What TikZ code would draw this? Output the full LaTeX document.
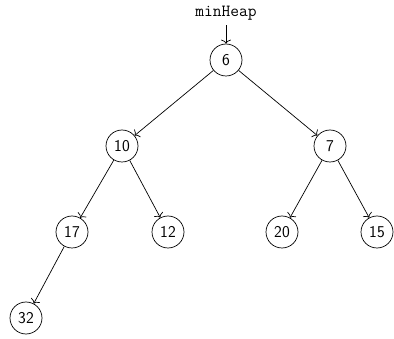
\documentclass[tikz,border=0pt]{standalone}
\usetikzlibrary{arrows.meta}
\begin{document}
\begin{tikzpicture}[x=1pt,y=-1pt,
  heapnode/.style={circle,draw,minimum size=32pt,inner sep=0pt,line width=0.7pt,
    font=\sffamily\fontsize{16.5}{19}\selectfont},
  link/.style={line width=0.7pt,-{To[length=4pt,width=10pt]}}]
\useasboundingbox (0,0) rectangle (394,339);
\node[font=\ttfamily\fontsize{17}{19}\selectfont,inner sep=2pt] (lbl) at (226,13) {minHeap};
\node[heapnode] (n6)  at (226,60)  {6};
\node[heapnode] (n10) at (122,146) {10};
\node[heapnode] (n7)  at (330,146) {7};
\node[heapnode] (n17) at (72,232)  {17};
\node[heapnode] (n12) at (168,232) {12};
\node[heapnode] (n20) at (282,232) {20};
\node[heapnode] (n15) at (377,232) {15};
\node[heapnode] (n32) at (26,318)  {32};
\draw[link,shorten <=3pt] (lbl) -- (n6);
\draw[link] (n6) -- (n10);
\draw[link] (n6) -- (n7);
\draw[link] (n10) -- (n17);
\draw[link] (n10) -- (n12);
\draw[link] (n7) -- (n20);
\draw[link] (n7) -- (n15);
\draw[link] (n17) -- (n32);
\end{tikzpicture}
\end{document}
